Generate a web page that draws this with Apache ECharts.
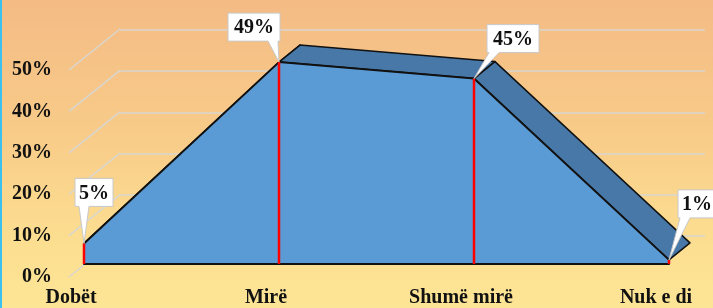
<!DOCTYPE html>
<html>
<head>
<meta charset="utf-8">
<script src="https://cdn.jsdelivr.net/npm/echarts@6/dist/echarts.min.js"></script>
<style>
  html, body { margin: 0; padding: 0; }
  #chart {
    width: 713px; height: 308px;
    background: linear-gradient(to bottom, #f4bb85 0%, #f8cc89 45%, #fcdd90 75%, #fde596 100%);
  }
</style>
</head>
<body>
<div id="chart"></div>
<script>
// data
const categories = ['Dobët', 'Mirë', 'Shumë mirë', 'Nuk e di'];
const shares = [5, 49, 45, 1];
const yTicks = [0, 10, 20, 30, 40, 50];

// 3d look: depth offset of the slab and of the back wall (pixels)
const DEPTH = [21, -17];
const WALL = [51, -41];
// where each callout box sits relative to its point
const calloutOffsets = [[10, -51], [-25, -35], [39, -40], [28, -56]];

const chart = echarts.init(document.getElementById('chart'));

const serif = '"Liberation Serif", "Times New Roman", serif';

// top face of the area, drawn behind the front face
function renderSlab(params, api) {
  const i = api.value(0);
  if (i >= shares.length - 1) return;
  const a = api.coord([i, shares[i]]);
  const b = api.coord([i + 1, shares[i + 1]]);
  return {
    type: 'polygon',
    shape: {
      points: [a, b, [b[0] + DEPTH[0], b[1] + DEPTH[1]], [a[0] + DEPTH[0], a[1] + DEPTH[1]]]
    },
    style: { fill: '#4878a8', stroke: '#111', lineWidth: 1.5, lineJoin: 'round' }
  };
}

function renderDrop(params, api) {
  const i = api.value(0);
  const top = api.coord([i, api.value(1)]);
  const bot = api.coord([i, 0]);
  return {
    type: 'line',
    shape: { x1: top[0], y1: top[1], x2: bot[0], y2: bot[1] },
    style: { stroke: '#ff0000', lineWidth: 2.5 }
  };
}

function renderCallout(params, api) {
  const i = api.value(0);
  const p = api.coord([i, api.value(1)]);
  const txt = api.value(1) + '%';
  const w = txt.length > 2 ? 52 : 38;
  const h = 28;
  const cx = p[0] + calloutOffsets[i][0];
  const cy = p[1] + calloutOffsets[i][1];
  const l = cx - w / 2, r = cx + w / 2, t = cy - h / 2, b = cy + h / 2;
  let m = Math.min(Math.max(p[0], l + 7), r - 7);
  return {
    type: 'group',
    children: [
      {
        type: 'polygon',
        shape: { points: [[l, t], [r, t], [r, b], [m + 5, b], p, [m - 5, b], [l, b]] },
        style: { fill: '#fff', stroke: '#c8c8c8', lineWidth: 1 }
      },
      {
        type: 'text',
        style: {
          text: txt, x: cx, y: cy + 1, align: 'center', verticalAlign: 'middle',
          font: 'bold 20px ' + serif, fill: '#111'
        }
      }
    ]
  };
}

// short slanted part of each grid line, from the label to the back wall
function renderWallEdge(params, api) {
  const p = api.coord([0, api.value(0)]);
  return {
    type: 'line',
    shape: { x1: p[0], y1: p[1], x2: p[0] + WALL[0], y2: p[1] + WALL[1] },
    style: { stroke: '#d9d6cf', lineWidth: 1.5 }
  };
}

const option = {
  backgroundColor: 'transparent',
  animation: false,
  graphic: [{
    type: 'rect', shape: { x: 0, y: 0, width: 2, height: 308 },
    style: { fill: '#3cc0ef' }, z: 100
  }],
  grid: [
    // back wall
    { left: 120, right: 8, top: 30, bottom: 72 },
    // tick labels
    { left: 69, right: 8, top: 70, bottom: 31 },
    // front face
    { left: 84, right: 44, top: 58, bottom: 44 }
  ],
  xAxis: [
    { gridIndex: 0, type: 'value', min: 0, max: 1, show: false },
    { gridIndex: 1, type: 'value', min: 0, max: 1, show: false },
    {
      gridIndex: 2, type: 'category', data: categories, boundaryGap: false,
      axisLine: { lineStyle: { color: '#111', width: 2 } },
      axisTick: { show: false },
      axisLabel: {
        interval: 0, margin: 24, color: '#111', fontFamily: serif,
        fontWeight: 'bold', fontSize: 20, padding: [0, 26, 0, 0]
      },
      z: 4
    }
  ],
  yAxis: [
    {
      gridIndex: 0, type: 'value', min: 0, max: 50, interval: 10,
      axisLine: { show: false }, axisTick: { show: false }, axisLabel: { show: false },
      splitLine: { lineStyle: { color: '#d9d6cf', width: 1.5 } }
    },
    {
      gridIndex: 1, type: 'value', min: 0, max: 50, interval: 10,
      axisLine: { show: false }, axisTick: { show: false }, splitLine: { show: false },
      axisLabel: {
        margin: 17, color: '#111', fontFamily: serif, fontWeight: 'bold', fontSize: 20,
        formatter: v => v + '%'
      }
    },
    { gridIndex: 2, type: 'value', min: 0, max: 50, show: false }
  ],
  series: [
    {
      type: 'custom', xAxisIndex: 1, yAxisIndex: 1, z: 1,
      renderItem: renderWallEdge, data: yTicks.map(v => [v])
    },
    {
      type: 'custom', xAxisIndex: 2, yAxisIndex: 2, z: 2,
      renderItem: renderSlab, data: shares.map((v, i) => [i, v])
    },
    {
      type: 'line', xAxisIndex: 2, yAxisIndex: 2, z: 3,
      data: shares, symbol: 'none',
      lineStyle: { color: '#111', width: 2 },
      areaStyle: { color: '#5b9bd5', opacity: 1 }
    },
    {
      type: 'custom', xAxisIndex: 2, yAxisIndex: 2, z: 5,
      renderItem: renderDrop, data: shares.map((v, i) => [i, v])
    },
    {
      type: 'custom', xAxisIndex: 2, yAxisIndex: 2, z: 6,
      renderItem: renderCallout, data: shares.map((v, i) => [i, v])
    }
  ]
};

chart.setOption(option);
</script>
</body>
</html>
